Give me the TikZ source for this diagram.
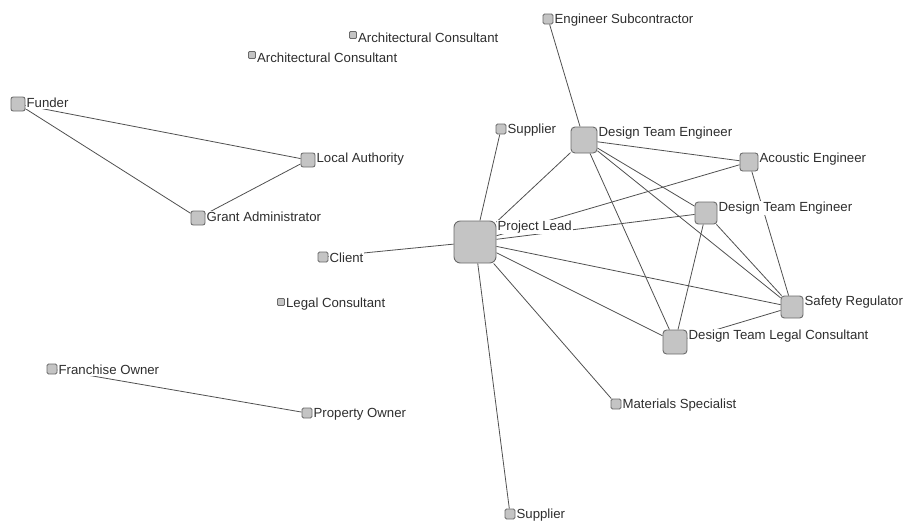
\documentclass[tikz,border=0pt]{standalone}
\usepackage{fontspec}
\setmainfont{Liberation Sans}
\usepackage{xcolor}
\usetikzlibrary{backgrounds}

\definecolor{nodefill}{HTML}{C4C4C4}
\definecolor{nodeedge}{HTML}{6A6A6A}
\definecolor{tiegray}{HTML}{505050}
\definecolor{textgray}{HTML}{2E2E2E}

\tikzset{
  actor/.style={draw=nodeedge, fill=nodefill, line width=0.9pt, inner sep=0pt,
    minimum size=#1pt, rounded corners=0.15*#1pt},
  lbl/.style={anchor=west, yshift=-6.5pt, xshift=0pt, fill=white, inner sep=1pt,
    text=textgray, font=\fontsize{13.2}{15}\selectfont},
  tie/.style={draw=tiegray, line width=0.8pt}
}

\begin{document}
\begin{tikzpicture}[x=1pt, y=-1pt]
\useasboundingbox (0,0) rectangle (905,523);

% actors
\node[actor=7, label={[lbl]north east:Architectural Consultant}] (arch1) at (353,35) {};
\node[actor=7, label={[lbl]north east:Architectural Consultant}] (arch2) at (252,55) {};
\node[actor=10, label={[lbl]north east:Engineer Subcontractor}] (engsub) at (548,19) {};
\node[actor=14, label={[lbl]north east:Funder}] (funder) at (18,104) {};
\node[actor=10, label={[lbl]north east:Supplier}] (supA) at (501,129) {};
\node[actor=26, label={[lbl]north east:Design Team Engineer}] (dteA) at (584,140) {};
\node[actor=14, label={[lbl]north east:Local Authority}] (localauth) at (308,160) {};
\node[actor=18, label={[lbl]north east:Acoustic Engineer}] (acoustic) at (749,162) {};
\node[actor=22, label={[lbl]north east:Design Team Engineer}] (dteB) at (706,213) {};
\node[actor=14, label={[lbl]north east:Grant Administrator}] (grantadm) at (198,218) {};
\node[actor=42, label={[lbl]north east:Project Lead}] (lead) at (475,242) {};
\node[actor=10, label={[lbl]north east:Client}] (client) at (323,257) {};
\node[actor=7, label={[lbl]north east:Legal Consultant}] (legal) at (281,302) {};
\node[actor=22, label={[lbl]north east:Safety Regulator}] (safety) at (792,307) {};
\node[actor=24, label={[lbl]north east:Design Team Legal Consultant}] (dtlegal) at (675,342) {};
\node[actor=10, label={[lbl]north east:Franchise Owner}] (franchise) at (52,369) {};
\node[actor=10, label={[lbl]north east:Property Owner}] (property) at (307,413) {};
\node[actor=10, label={[lbl]north east:Materials Specialist}] (materials) at (616,404) {};
\node[actor=10, label={[lbl]north east:Supplier}] (supB) at (510,514) {};

% ties
\begin{scope}[on background layer]
\draw[tie] (funder) -- (localauth);
\draw[tie] (funder) -- (grantadm);
\draw[tie] (grantadm) -- (localauth);
\draw[tie] (franchise) -- (property);
\draw[tie] (engsub) -- (dteA);
\foreach \other in {supA, client, supB, materials, dteA, acoustic, dteB, safety, dtlegal}
  \draw[tie] (lead) -- (\other);
\foreach \other in {acoustic, dteB, safety, dtlegal}
  \draw[tie] (dteA) -- (\other);
\draw[tie] (acoustic) -- (safety);
\draw[tie] (dteB) -- (safety);
\draw[tie] (dteB) -- (dtlegal);
\draw[tie] (dtlegal) -- (safety);
\end{scope}
\end{tikzpicture}
\end{document}
